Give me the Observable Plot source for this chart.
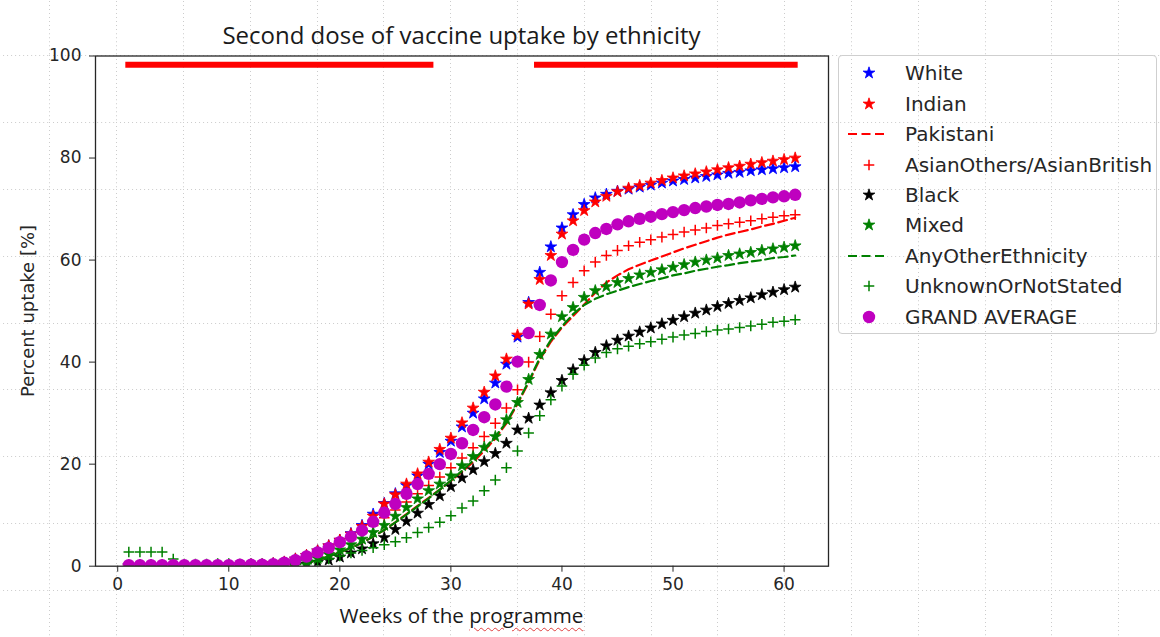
<!DOCTYPE html>
<html>
<head>
<meta charset="utf-8">
<script src="https://cdn.jsdelivr.net/npm/d3@7"></script>
<script src="https://cdn.jsdelivr.net/npm/@observablehq/plot@0.6"></script>
<style>
html, body { margin: 0; padding: 0; background: #ffffff; }
#wrap {
  position: relative; width: 1160px; height: 637px; overflow: hidden;
  background-color: #ffffff;
  background-image: url("data:image/svg+xml,%3Csvg xmlns='http://www.w3.org/2000/svg' width='66.8' height='66.8'%3E%3Cpath d='M0.5 0V66.8M0 0.5H66.8' stroke='%23cccccc' stroke-width='1' stroke-dasharray='1 3' fill='none'/%3E%3C/svg%3E");
  background-size: 66.8px 66.8px;
  background-position: 49.5px 55.5px;
}
#chart { position: absolute; left: 0; top: 0; }
#title {
  position: absolute; left: 0; width: 923px; top: 23.7px; text-align: center;
  font-family: "Open Sans", sans-serif; font-size: 24px; line-height: 22px; color: #1a1a1a; white-space: nowrap;
}
#xlabel {
  position: absolute; left: 0; width: 923px; top: 605px; text-align: center;
  font-family: "Open Sans", sans-serif; font-size: 20.6px; line-height: 20px; color: #1a1a1a; white-space: nowrap;
}
#xlabel .sp { text-decoration: underline wavy #e04040; text-decoration-thickness: 1px; text-underline-offset: 4px; }
#ylabel {
  position: absolute; left: 27.5px; top: 310.6px; transform: translate(-50%, -50%) rotate(-90deg);
  font-family: "DejaVu Sans", sans-serif; font-size: 18px; line-height: 20px; color: #262626; white-space: nowrap;
}
#legend {
  position: absolute; left: 838px; top: 55px; width: 319px; height: 279px;
  border: 1px solid #cfcfcf; border-radius: 4px; box-sizing: border-box;
  font-family: "DejaVu Sans", sans-serif; font-size: 20px; color: #262626;
}
#legend .row { position: absolute; left: 0; height: 30px; width: 100%; }
#legend .row svg { position: absolute; left: 9px; top: 0; }
#legend .row span { position: absolute; left: 66px; top: 3px; line-height: 24px; white-space: nowrap; }
</style>
</head>
<body>
<div id="wrap">
  <div id="chart"></div>
  <div id="title">Second dose of vaccine uptake by ethnicity</div>
  <div id="ylabel">Percent uptake [%]</div>
  <div id="xlabel">Weeks of the <span class="sp">programme</span></div>
  <div id="legend"></div>
</div>
<script>
// ---- data ----
const weeks = [1,2,3,4,5,6,7,8,9,10,11,12,13,14,15,16,17,18,19,20,21,22,23,24,25,26,27,28,29,30,31,32,33,34,35,36,37,38,39,40,41,42,43,44,45,46,47,48,49,50,51,52,53,54,55,56,57,58,59,60,61];

const white = [0.1,0.1,0.1,0.1,0.1,0.1,0.1,0.2,0.2,0.2,0.2,0.3,0.3,
  0.5,0.8,1.4,2.1,3.0,4.0,5.1,6.4,8.0,10.2,12.3,14.2,15.8,17.7,20.0,22.3,24.5,27.3,30.0,32.8,35.9,39.6,44.9,51.7,57.6,62.6,66.3,68.9,70.9,72.2,72.9,73.5,73.9,74.3,74.7,75.1,75.5,75.8,76.1,76.4,76.7,77.0,77.2,77.5,77.7,77.9,78.1,78.3];

const indian = [0.1,0.1,0.1,0.1,0.1,0.1,0.1,0.2,0.2,0.2,0.2,0.3,0.3,
  0.5,0.8,1.4,2.1,3.0,4.0,5.1,6.3,7.8,9.8,12.2,14.0,16.1,18.1,20.4,22.9,25.1,28.1,31.0,34.1,37.3,40.6,45.3,51.4,56.2,60.9,65.1,67.7,69.7,71.4,72.5,73.4,74.1,74.6,75.1,75.6,76.1,76.5,76.9,77.3,77.7,78.1,78.4,78.8,79.1,79.4,79.7,80.0];

const pakistani = [0.1,0.1,0.1,0.1,0.1,0.1,0.1,0.1,0.1,0.1,0.1,0.1,0.1,0.2,0.2,
  0.3,0.7,1.2,1.9,2.7,3.6,4.6,5.8,7.1,8.6,10.2,11.8,13.4,15.0,16.7,18.5,20.4,22.6,25.0,28.0,31.8,36.0,40.5,44.0,46.8,49.0,51.3,53.6,55.6,57.0,58.2,59.1,59.9,60.7,61.5,62.3,63.0,63.7,64.4,65.0,65.5,66.0,66.6,67.1,67.7,68.3];

const asianOthers = [0.1,0.1,0.1,0.1,0.1,0.1,0.1,0.1,0.1,0.1,0.1,0.2,0.2,0.2,0.3,
  0.8,1.4,2.2,3.1,4.1,5.3,6.6,8.0,9.5,11.0,12.6,14.2,15.8,17.5,19.3,21.2,23.2,25.4,28.0,31.0,34.6,40.0,45.0,49.4,53.0,55.6,57.9,59.6,60.9,61.9,62.8,63.5,64.0,64.5,65.0,65.5,65.9,66.3,66.8,67.1,67.4,67.7,68.1,68.4,68.7,68.9];

const black = [0,0,0,0,0,0,0,0,0,0,0,0,0,0,0.1,
  0.2,0.4,0.8,1.2,1.8,2.6,3.4,4.4,5.6,7.2,8.8,10.4,12.1,13.8,15.6,17.3,18.9,20.5,22.1,24.1,26.7,29.0,31.6,34.0,36.4,38.5,40.3,41.9,43.2,44.3,45.1,45.9,46.7,47.5,48.2,48.9,49.6,50.2,50.9,51.5,52.1,52.6,53.2,53.7,54.2,54.7];

const mixed = [0,0,0,0,0,0,0,0,0,0,0,0,0,0.1,0.1,
  0.4,0.9,1.5,2.3,3.2,4.2,5.3,6.6,8.0,9.8,11.5,13.2,14.8,16.1,17.7,19.7,21.5,23.3,25.4,28.7,32.1,36.6,41.5,45.5,48.9,50.7,52.7,54.0,54.8,55.6,56.4,57.1,57.6,58.1,58.6,59.1,59.6,60.0,60.4,60.9,61.2,61.5,61.9,62.2,62.5,62.8];

const anyOther = [0.1,0.1,0.1,0.1,0.1,0.1,0.1,0.1,0.1,0.1,0.1,0.1,0.1,0.1,0.2,
  0.3,0.7,1.2,1.9,2.7,3.6,4.6,5.8,7.1,8.6,10.1,11.7,13.3,15.0,16.8,18.7,20.7,23.0,25.4,28.2,32.0,36.2,40.8,44.3,47.0,49.4,51.2,52.4,53.3,54.0,54.7,55.3,55.9,56.4,57.0,57.4,57.9,58.3,58.7,59.0,59.4,59.7,60.0,60.4,60.6,60.9];

const unknown = [2.8,2.8,2.8,2.8,1.4,0.4,0.4,0.4,0.5,0.5,0.4,0.4,0.4,0.3,0.3,
  0.3,0.5,0.9,1.4,2.0,2.6,3.1,3.6,4.2,4.8,5.6,6.6,7.6,8.6,9.9,11.4,12.8,14.8,16.9,19.3,22.6,26.1,29.5,32.6,35.3,37.6,39.4,40.8,41.9,42.6,43.1,43.6,44.0,44.5,44.9,45.3,45.6,46.0,46.3,46.5,46.8,47.1,47.4,47.8,48.0,48.3];

const grandAverage = [0.2,0.2,0.2,0.2,0.2,0.2,0.2,0.2,0.2,0.2,0.3,0.3,0.3,
  0.4,0.7,1.2,1.9,2.7,3.6,4.7,5.8,7.0,8.7,10.5,12.2,14.2,16.1,18.1,20.0,22.0,24.1,26.7,29.2,31.7,35.2,40.1,45.7,51.2,56.0,59.6,62.0,64.0,65.3,66.1,67.0,67.6,68.1,68.5,69.0,69.4,69.8,70.2,70.5,70.8,71.0,71.3,71.7,72.0,72.3,72.5,72.8];

const seriesNames  = ["White","Indian","Pakistani","AsianOthers/AsianBritish","Black","Mixed","AnyOtherEthnicity","UnknownOrNotStated","GRAND AVERAGE"];
const seriesValues = [white, indian, pakistani, asianOthers, black, mixed, anyOther, unknown, grandAverage];
const seriesColors = ["#0000ff","#ff0000","#ff0000","#ff0000","#000000","#008000","#008000","#008000","#bf00bf"];
const seriesKinds  = ["star","star","dash","plus","star","star","dash","plus","circle"];

// highlighted periods (red bars at the top)
const barStart = [1, 37.8];
const barEnd   = [28.2, 61];
const barLevel = 98.3;

const xTicks = [0,10,20,30,40,50,60];
const yTicks = [0,20,40,60,80,100];

// ---- styles ----
const STAR_R = 3.7, PLUS_R = 3.5, CIRCLE_R = 6.2;
const DASH = "9,4.5";

const marks = [];
marks.push(Plot.ruleY(barStart.map((s, i) => ({start: s, end: barEnd[i], level: barLevel})),
  {x1: "start", x2: "end", y: "level", stroke: "#ff0000", strokeWidth: 6, strokeLinecap: "square"}));

seriesNames.forEach((name, k) => {
  const data = weeks.map((w, i) => ({week: w, value: seriesValues[k][i]}));
  const c = seriesColors[k];
  const kind = seriesKinds[k];
  if (kind === "dash") {
    marks.push(Plot.line(data, {x: "week", y: "value", stroke: c, strokeWidth: 2.2, strokeDasharray: DASH, clip: true}));
  } else if (kind === "star") {
    marks.push(Plot.dot(data, {x: "week", y: "value", symbol: "star", r: STAR_R, fill: c, stroke: c, strokeWidth: 0.8, clip: true}));
  } else if (kind === "plus") {
    marks.push(Plot.dot(data, {x: "week", y: "value", symbol: "plus", r: PLUS_R, stroke: c, strokeWidth: 1.5, fill: "none", clip: true}));
  } else {
    marks.push(Plot.dot(data, {x: "week", y: "value", symbol: "circle", r: CIRCLE_R, fill: c, stroke: "none", clip: true}));
  }
});
marks.push(Plot.frame({stroke: "#262626", strokeWidth: 1.3}));

const chart = Plot.plot({
  width: 840,
  height: 637,
  marginLeft: 95,
  marginRight: 12,
  marginTop: 55.5,
  marginBottom: 71.3,
  x: {domain: [-2, 64], ticks: xTicks, tickSize: 6, tickPadding: 6, label: null},
  y: {domain: [0, 100], ticks: yTicks, tickSize: 6, tickPadding: 8, label: null},
  style: {background: "transparent", fontFamily: "DejaVu Sans", fontSize: "17px", color: "#262626", overflow: "visible"},
  marks
});
document.getElementById("chart").appendChild(chart);

// ---- legend ----
const legend = d3.select("#legend");
seriesNames.forEach((name, k) => {
  const row = legend.append("div").attr("class", "row").style("top", (2.3 + 30.4 * k) + "px");
  const svg = row.append("svg").attr("width", 40).attr("height", 30);
  const c = seriesColors[k];
  const kind = seriesKinds[k];
  if (kind === "dash") {
    svg.append("line").attr("x1", 0).attr("x2", 38).attr("y1", 15).attr("y2", 15)
      .attr("stroke", c).attr("stroke-width", 2.2).attr("stroke-dasharray", DASH);
  } else if (kind === "star") {
    svg.append("path").attr("transform", "translate(21,15)")
      .attr("d", d3.symbol(d3.symbolStar, STAR_R * STAR_R * Math.PI)())
      .attr("fill", c).attr("stroke", c).attr("stroke-width", 0.8);
  } else if (kind === "plus") {
    svg.append("path").attr("transform", "translate(21,15)")
      .attr("d", d3.symbol(d3.symbolPlus, PLUS_R * PLUS_R * Math.PI)())
      .attr("fill", "none").attr("stroke", c).attr("stroke-width", 1.5);
  } else {
    svg.append("circle").attr("cx", 21).attr("cy", 15).attr("r", CIRCLE_R).attr("fill", c);
  }
  row.append("span").text(name);
});
</script>
</body>
</html>
